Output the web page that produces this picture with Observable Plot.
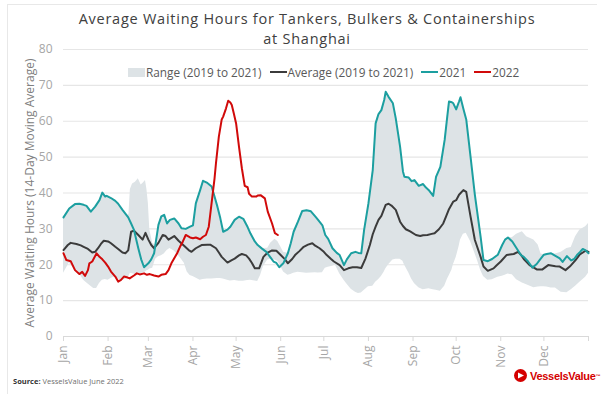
<!DOCTYPE html>
<html>
<head>
<meta charset="utf-8">
<script src="https://cdn.jsdelivr.net/npm/d3@7"></script>
<script src="https://cdn.jsdelivr.net/npm/@observablehq/plot@0.6"></script>
<style>
  body { margin: 0; background: #fff; }
  #wrap { position: relative; width: 614px; height: 394px; overflow: hidden; background: #fff; font-family: "Open Sans", sans-serif; }
  #frame { position: absolute; left: 7px; top: 4px; width: 589px; height: 420px; border-top: 1px solid #e8e8e8; border-left: 1px solid #e8e8e8; }
  #title { position: absolute; left: 0; top: 0; width: 614px; height: 48px; box-sizing: border-box; padding-top: 9px; text-align: center; color: #404040; font-size: 14.5px; line-height: 20px; letter-spacing: 0.75px; }
  #chart { position: absolute; left: 0; top: 48px; }
  #legend { position: absolute; left: 128px; top: 64px; height: 16px; display: flex; align-items: center; font-size: 11.8px; color: #595959; white-space: nowrap; }
  #legend .item { display: flex; align-items: center; margin-right: 8px; }
  #legend .box { width: 17px; height: 9px; background: #dde3e6; margin-right: 1px; }
  #legend .ln { width: 17px; height: 2px; margin-right: 1px; }
  #source { position: absolute; left: 13px; top: 376px; font-size: 7.5px; color: #707070; }
  #source b { color: #333; }
  #logo { position: absolute; left: 514px; top: 369px; display: flex; align-items: center; color: #d40000; font-family: "Liberation Sans Narrow", "Liberation Sans", sans-serif; font-weight: bold; font-size: 11px; letter-spacing: -0.3px; }
  #logo svg { margin-right: 3px; }
  #logo sup { font-size: 5px; }
</style>
</head>
<body>
<div id="wrap">
  <div id="frame"></div>
  <div id="title"></div>
  <div id="chart"></div>
  <div id="legend"></div>
  <div id="source"><b>Source:</b> VesselsValue June 2022</div>
  <div id="logo"><svg width="13" height="13" viewBox="0 0 13 13"><circle cx="6.5" cy="6.5" r="6.5" fill="#d40000"/><path d="M4 3.5 L10 6.5 L4 9.5 Z" fill="#fff"/></svg>VesselsValue<sup>™</sup></div>
</div>
<script>
// ---------- text ----------
const titleLines = ["Average Waiting Hours for Tankers, Bulkers & Containerships", "at Shanghai"];
const yLabel = "Average Waiting Hours (14-Day Moving Average)";
const monthLabels = ["Jan","Feb","Mar","Apr","May","Jun","Jul","Aug","Sep","Oct","Nov","Dec",""];
const yTicks = [0, 10, 20, 30, 40, 50, 60, 70, 80];
const legendLabels = ["Range (2019 to 2021)", "Average (2019 to 2021)", "2021", "2022"];
const colors = { range: "#dde3e6", avg: "#3b3b3b", y2021: "#1c9fa0", y2022: "#d10a0a" };

// ---------- data: [day of year, hours] ----------
const rangeDays = [0,2,4,6,8,11,14,16,19,21,23,25,27,29,31,33,36,38,41,44,45.5,46.5,48,50,52,54,55.5,57,58,59,60,62,64,66,68,70,72,74,77,80,82,84,86,88,90,92,95,97,100,103,105,107,109,111,114,116,119,122,125,128,130,133,135,137,139,142,144,147,149,151,153,156,158,160,163,166,169,172,175,177,180,182,184,187,189,192,195,197,200,203,205,207,209,212,215,217,219,221,223,224,226,229,231,234,236,237,240,242,244,247,250,252,254,257,259,262,265,267,268,270,271,273,275,276,278,280,283,286,288,290,292,295,298,302,305,307,309,312,315,319,322,327,330,332,334,336,339,342,346,350,353,356,359,363,365];
const rangeLow = [17.6,19.0,20.5,19.5,18.7,17.5,15.7,15.0,14.0,13.4,13.4,14.8,15.7,15.9,15.7,16.2,16.7,16.0,15.7,16.0,16.8,17.6,17.5,17.3,17.4,17.5,17.8,18.0,18.3,18.5,18.8,19.0,21.5,22.2,22.5,23.0,24.0,24.5,23.8,22.5,21.5,20.4,18.0,17.0,16.7,16.3,15.7,15.9,16.0,16.0,16.1,16.2,16.2,16.0,15.7,15.5,15.6,15.4,15.4,15.6,15.7,15.5,15.3,17.0,19.5,21.3,21.5,21.3,21.0,19.5,18.0,17.1,17.3,17.6,17.9,17.8,17.6,17.7,17.8,17.7,17.8,19.0,19.3,19.6,19.9,17.5,15.7,14.6,13.2,12.3,12.0,12.1,12.8,13.9,14.0,15.1,15.8,16.7,18.0,18.8,20.0,21.3,21.5,21.5,21.0,20.0,17.8,16.0,14.8,13.6,13.0,13.2,13.3,13.0,12.9,12.6,14.0,16.0,16.8,18.5,19.9,22.0,25.0,26.9,28.5,28.8,26.5,23.2,21.0,18.5,16.7,15.7,15.8,16.5,16.8,17.1,17.4,17.2,15.8,14.9,14.4,13.6,13.8,13.9,13.9,13.8,13.5,13.5,12.3,12.2,13.0,14.0,15.1,16.5,17.6];
const rangeHigh = [33.2,34.5,35.7,36.3,36.9,37.0,36.7,36.4,34.8,35.5,36.6,38.0,40.1,39.0,39.2,38.6,37.8,37.0,35.3,33.5,34.0,41.0,42.5,43.0,44.0,42.2,42.8,43.5,41.0,37.1,29.7,26.0,25.5,31.1,33.5,33.9,31.5,32.5,32.9,31.5,30.2,30.0,30.2,30.6,31.0,37.1,40.8,43.4,42.8,41.8,39.0,36.2,33.0,29.2,29.8,30.6,32.5,33.4,32.8,30.5,28.7,26.5,25.5,25.0,24.5,24.6,26.0,27.1,26.5,25.0,23.5,23.2,26.0,29.2,32.0,35.0,35.2,34.9,33.5,32.5,31.0,28.3,27.2,24.6,23.6,22.7,19.9,21.5,23.2,23.6,23.3,23.2,29.7,37.1,46.4,59.4,62.0,63.1,66.0,68.2,66.8,65.0,60.8,52.9,46.0,44.5,44.3,43.3,43.6,42.0,42.5,41.5,40.8,39.2,44.5,47.3,54.8,62.0,65.5,65.3,65.0,63.3,65.5,66.7,63.5,60.5,50.1,39.5,33.5,27.8,21.3,21.0,21.6,22.8,25.5,27.0,27.6,27.5,28.5,29.2,27.8,26.9,25.5,23.0,22.8,23.0,23.2,23.0,23.5,24.5,24.8,27.8,29.7,30.6,31.5];

const avgDays = [0,3,5,9,12,14,17,20,22,24,26,28,31,33,36,38,41,43,45,47,49,52,55,57,59,61,63,66,69,71,73,77,80,84,87,89,92,96,100,102,106,108,110,114,117,119,122,124,127,129,131,133,136,139,142,145,148,151,154,156,159,161,164,167,170,173,175,178,181,183,186,188,192,195,198,201,204,207,210,213,215,217,219,221,224,226,228,231,234,236,238,241,245,248,250,253,256,258,261,264,266,268,271,273,275,278,280,281,283,286,290,292,295,299,301,304,308,313,316,318,320,324,327,329,333,337,342,345,349,352,356,359,363,365];
const avgValues = [24.1,25.5,26.1,25.8,25.4,25.0,24.4,23.4,23.6,24.6,25.8,26.7,26.5,26.0,25.0,24.4,23.4,23.2,24.0,29.2,29.5,28.3,27.0,28.9,27.0,25.5,24.6,26.1,28.3,28.0,27.0,28.0,26.7,25.2,24.1,23.6,24.6,25.5,25.6,25.6,24.6,23.4,22.2,20.6,21.3,21.7,22.6,23.0,22.6,21.7,20.5,19.0,19.0,22.2,23.4,24.0,23.9,22.7,21.5,20.4,21.6,22.7,23.8,25.0,25.6,26.0,25.3,24.6,23.6,22.7,21.6,20.9,19.9,18.5,19.0,19.3,19.3,19.1,21.8,25.5,28.5,30.6,32.5,33.6,36.7,37.0,36.5,35.3,32.0,30.8,29.9,29.3,28.3,28.0,28.2,28.3,28.6,28.8,29.9,31.5,33.5,35.5,37.6,38.0,39.5,40.8,40.3,38.0,33.4,26.9,22.2,19.5,18.3,19.0,19.8,20.9,22.7,23.0,23.6,22.8,21.6,19.9,19.2,18.7,18.7,19.9,19.6,19.5,18.5,19.5,21.3,22.9,23.9,23.6];

const days2021 = [0,4,8,11,14,16,19,22,25,27,29,30,33,36,38,41,45,47,49,52,54,56,59,61,63,66,68,70,72,74,77,80,82,85,88,90,92,95,97,100,103,105,107,109,111,114,116,119,122,125,128,130,133,135,138,141,144,146,148,150,153,156,158,160,163,166,169,172,175,177,180,182,184,187,190,192,195,197,200,203,205,207,209,212,215,217,219,221,223,224,226,229,231,234,236,237,240,242,244,247,250,252,254,257,259,262,265,267,268,270,271,273,275,276,278,280,283,286,290,292,295,298,302,305,307,309,312,315,318,320,323,326,329,331,334,336,339,342,345,347,350,353,355,357,359,361,363,365];
const values2021 = [33.2,35.7,36.9,37.0,36.7,36.4,34.8,36.2,38.0,40.1,39.0,39.2,38.6,37.8,37.0,35.3,33.2,31.5,29.7,24.6,21.5,19.3,20.4,21.5,23.2,31.1,33.5,33.9,31.5,32.5,32.9,31.5,30.2,30.0,30.6,31.0,37.1,40.8,43.4,42.8,41.8,39.0,36.2,33.0,29.2,29.8,30.6,32.5,33.4,32.8,30.5,28.7,26.5,25.5,24.5,23.6,22.0,20.9,20.5,19.3,20.5,23.2,26.0,29.2,32.0,35.0,35.2,34.9,33.5,32.5,31.0,28.3,27.2,24.6,23.3,22.7,19.9,21.5,23.2,23.6,23.3,23.2,29.7,37.1,46.4,59.4,62.0,63.1,66.0,68.2,66.8,65.0,60.8,52.9,46.0,44.5,44.3,43.3,43.6,42.0,42.5,41.5,40.8,39.2,44.5,47.3,54.8,62.0,65.5,65.3,65.0,63.3,65.5,66.7,63.5,60.5,50.1,39.5,27.8,21.3,21.0,21.6,22.8,25.5,27.0,27.6,26.5,24.6,22.7,22.2,20.9,19.2,20.2,21.3,22.8,23.0,23.2,22.5,21.8,20.8,22.4,21.2,21.6,22.7,23.5,24.4,24.0,23.2];

const days2022 = [0,2,5,8,11,13,15,17,18,20,23,25,27,29,31,33,36,38,40,42,44,46,49,51,53,56,58,60,63,66,68,71,73,75,77,79,81,83,85,88,90,92,95,97,99,101,102,103.5,105,106,108,110,111,113,114.5,116,117,118.5,120,122,124,126,128,129,131,134,135,137,140,142,145,147,149];
const values2022 = [23.2,21.3,21.0,18.5,17.4,18.0,16.9,18.5,20.4,20.9,23.2,22.2,21.5,20.6,19.5,18.1,16.7,15.3,15.8,16.7,16.5,16.2,17.0,17.6,17.3,17.6,17.2,17.4,17.0,16.7,17.2,17.4,18.5,20.4,21.8,23.2,25.0,26.5,28.3,27.6,27.4,27.6,27.1,27.8,28.3,30.6,34.0,39.0,44.0,48.3,55.7,60.5,61.3,63.6,65.7,65.2,64.5,62.0,59.4,52.9,46.9,42.0,41.6,39.8,39.0,39.0,39.3,39.4,38.5,34.8,31.5,28.8,28.3];

// ---------- build ----------
const t0 = Date.UTC(2021, 0, 1);
const toDate = d => new Date(t0 + d * 864e5);
const rangeTable = rangeDays.map((d, i) => ({date: toDate(d), low: rangeLow[i], high: rangeHigh[i]}));
const avgTable = avgDays.map((d, i) => ({date: toDate(d), v: avgValues[i]}));
const t2021 = days2021.map((d, i) => ({date: toDate(d), v: values2021[i]}));
const t2022 = days2022.map((d, i) => ({date: toDate(d), v: values2022[i]}));
const monthTicks = d3.range(13).map(m => new Date(Date.UTC(2021, m, 1)));

document.getElementById("title").innerHTML = titleLines.map(s => `<div>${s.replace("&", "&amp;")}</div>`).join("");

const font = "'Open Sans', sans-serif";
const chart = Plot.plot({
  width: 614,
  height: 316,
  marginLeft: 63,
  marginRight: 26,
  marginTop: 1,
  marginBottom: 28,
  style: { fontFamily: font, fontSize: "12px", background: "transparent", overflow: "visible" },
  x: { type: "utc", domain: [monthTicks[0], monthTicks[12]] },
  y: { domain: [0, 80] },
  marks: [
    Plot.ruleY(yTicks.slice(1), { stroke: "#e6e6e6", strokeWidth: 1.2 }),
    Plot.areaY(rangeTable, { x: "date", y1: "low", y2: "high", fill: colors.range, curve: "linear" }),
    Plot.ruleY([0], { stroke: "#d9d9d9", strokeWidth: 1.2 }),
    Plot.line(avgTable, { x: "date", y: "v", stroke: colors.avg, strokeWidth: 2 }),
    Plot.line(t2021, { x: "date", y: "v", stroke: colors.y2021, strokeWidth: 2 }),
    Plot.line(t2022, { x: "date", y: "v", stroke: colors.y2022, strokeWidth: 2 }),
    Plot.axisX({ ticks: monthTicks, tickFormat: d => monthLabels[d.getUTCMonth() + (d.getUTCFullYear() > 2021 ? 12 : 0)], tickRotate: -90, tickSize: 5, tickPadding: 4, stroke: "#d9d9d9", fill: "#a6a6a6", label: null, fontSize: 12 }),
    Plot.axisY({ ticks: yTicks, tickSize: 0, tickPadding: 11, fill: "#a6a6a6", label: null, fontSize: 12 }),
    Plot.axisY({ ticks: [], label: yLabel, labelAnchor: "center", labelArrow: "none", labelOffset: 38, fill: "#808080", fontSize: 12 })
  ]
});
document.getElementById("chart").appendChild(chart);

// ---------- legend ----------
const lg = document.getElementById("legend");
const swatches = [
  `<span class="box"></span>`,
  `<span class="ln" style="background:${colors.avg}"></span>`,
  `<span class="ln" style="background:${colors.y2021}"></span>`,
  `<span class="ln" style="background:${colors.y2022}"></span>`
];
lg.innerHTML = legendLabels.map((l, i) => `<span class="item">${swatches[i]}<span>${l}</span></span>`).join("");
</script>
</body>
</html>
